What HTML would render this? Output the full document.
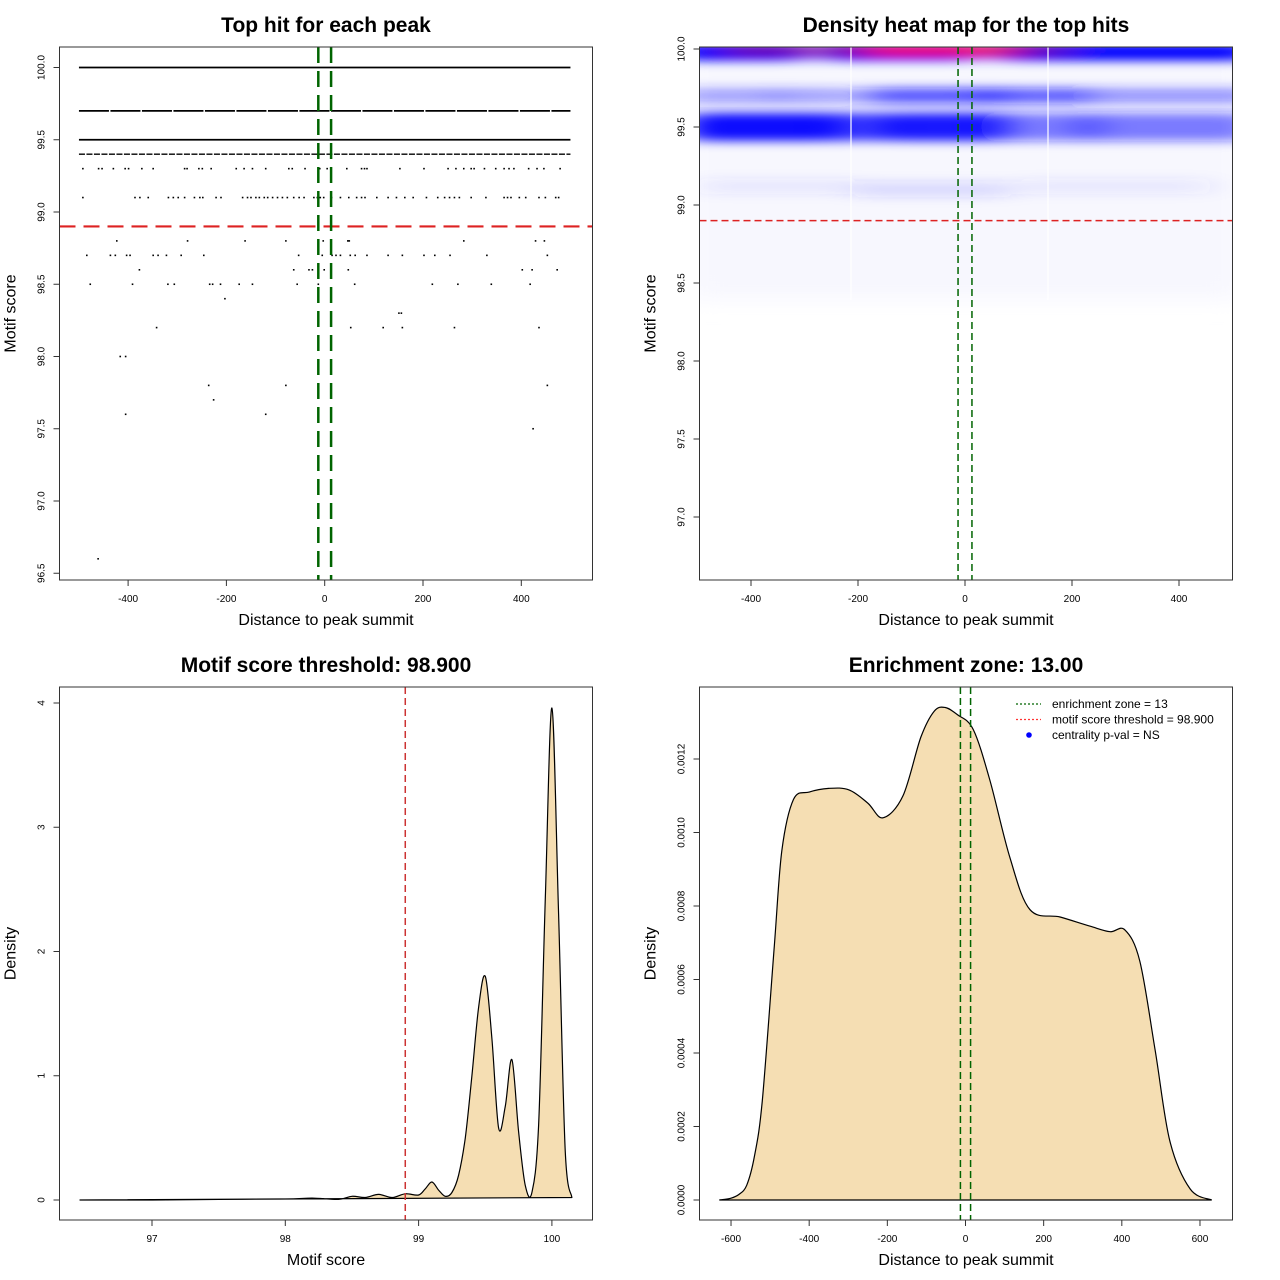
<!DOCTYPE html>
<html><head><meta charset="utf-8"><style>
body{margin:0;background:#fff;}
svg{display:block;font-family:"Liberation Sans",sans-serif;}
</style></head><body>
<svg id="fig" width="1280" height="1280" xmlns="http://www.w3.org/2000/svg">
<defs>
<filter id="blur" x="-50%" y="-100%" width="200%" height="300%"><feGaussianBlur stdDeviation="18 5"/></filter>
<filter id="blur2" x="-50%" y="-100%" width="200%" height="300%"><feGaussianBlur stdDeviation="20 10"/></filter>
<clipPath id="clip2"><rect x="700" y="47" width="532" height="533"/></clipPath>
</defs>
</svg>
<script>
// ---------- Panel 1 data ----------
const denseRows = [100.0, 99.7, 99.5, 99.4];
const sparseRowScores = [99.3, 99.1, 98.8, 98.7, 98.6, 98.5, 98.4, 98.3, 98.2, 98.0, 97.8, 97.7, 97.6, 97.5, 96.6];
const sparseRowDistances = [
 [-492,-460,-453,-430,-406,-399,-372,-349,-285,-280,-256,-249,-231,-180,-164,-147,-120,-73,-66,-40,-10,5,45,75,81,86,153,202,251,267,283,298,304,325,348,365,375,385,415,432,446,479],
 [-492,-386,-376,-359,-318,-308,-298,-285,-265,-254,-248,-221,-211,-167,-157,-150,-140,-133,-123,-116,-106,-96,-86,-76,-63,-52,-42,-22,-15,-9,-2,14,32,49,65,75,82,106,129,146,163,180,207,230,244,254,264,274,298,328,365,372,379,396,409,436,449,470,476],
 [-423,-279,-162,-79,-3,47,50,283,429,447],
 [-484,-436,-426,-403,-396,-349,-339,-322,-292,-246,-53,-5,15,23,32,52,62,86,129,158,202,224,255,330,453],
 [-377,-63,-32,-25,-1,48,402,422,473],
 [-477,-391,-319,-306,-234,-228,-212,-174,-147,-56,-13,61,219,271,339,418],
 [-203],[151,156],[-342,53,119,158,264,436],[-416,-405],[-236,-79,453],[-226],[-405,-120],[424],[-461]
];
const p1XTicks = [-400,-200,0,200,400];
const p1YTicks = [96.5,97.0,97.5,98.0,98.5,99.0,99.5,100.0];
const threshold = 98.9;
const zone = 13;
// ---------- Panel 2 data (heat blobs) ----------
const blobX = [-420,-120,300, -440,-280,-60,130,380, -380,-200,-40,140,380, -350,-60,280, -40,-320,120];
const blobW = [260,300,500, 200,160,260,200,360, 300,140,240,220,340, 300,300,360, 300,260,160];
const blobY = [99.98,99.98,99.98, 99.7,99.7,99.7,99.7,99.7, 99.5,99.5,99.5,99.5,99.5, 99.12,99.1,99.12, 99.99,99.99,99.99];
const blobH = [0.11,0.11,0.11, 0.1,0.1,0.1,0.1,0.1, 0.18,0.18,0.18,0.18,0.18, 0.1,0.1,0.1, 0.06,0.05,0.05];
const blobOpacity = [1,1,1, 0.4,0.4,0.7,0.65,0.45, 0.95,0.75,0.9,0.55,0.55, 0.08,0.14,0.08, 1,0.6,0.55];
const blobColor = ['#0000ff','#0000ff','#0000ff','#2020ff','#2020ff','#1010ff','#1010ff','#2020ff','#0000ff','#0000ff','#0000ff','#1010ff','#1010ff','#3030ff','#3030ff','#3030ff','#ff0000','#c00040','#b00050'];
const p2XTicks = [-400,-200,0,200,400];
const p2YTicks = [97.0,97.5,98.0,98.5,99.0,99.5,100.0];
// ---------- Panel 3 data ----------
const scoreGrid = [96.46,97,97.5,98,98.2,98.4,98.5,98.6,98.7,98.8,98.9,99.0,99.05,99.1,99.15,99.2,99.25,99.3,99.35,99.4,99.45,99.5,99.55,99.6,99.65,99.7,99.75,99.8,99.85,99.9,99.95,100.0,100.05,100.1,100.15];
const scoreDensity = [0,0,0.005,0.008,0.015,0.005,0.03,0.02,0.045,0.02,0.05,0.04,0.09,0.145,0.08,0.03,0.06,0.2,0.5,1.0,1.55,1.8,1.3,0.58,0.75,1.13,0.55,0.12,0.06,0.6,2.4,3.96,2.3,0.4,0.02];
const p3XTicks = [97,98,99,100];
const p3YTicks = [0,1,2,3,4];
// ---------- Panel 4 data ----------
const distGrid = [-630,-600,-580,-560,-540,-520,-490,-470,-440,-400,-350,-298,-250,-211,-160,-114,-80,-52,-20,20,63,114,165,242,319,370,408,446,485,523,575,630];
const distDensity = [0,0.000005,0.000015,0.00004,0.00012,0.00027,0.00068,0.00095,0.00109,0.00111,0.00112,0.001116,0.00108,0.00104,0.00110,0.00126,0.00133,0.00134,0.00132,0.00128,0.00114,0.00093,0.00079,0.00077,0.000745,0.00073,0.000735,0.00065,0.00041,0.00016,0.00003,0];
const p4XTicks = [-600,-400,-200,0,200,400,600];
const p4YTicks = [0,0.0002,0.0004,0.0006,0.0008,0.0010,0.0012];

const NS='http://www.w3.org/2000/svg';
const svg=document.getElementById('fig');
function el(tag,attrs,parent,text){const e=document.createElementNS(NS,tag);for(const k in attrs)e.setAttribute(k,attrs[k]);if(text!==undefined)e.textContent=text;(parent||svg).appendChild(e);return e;}
function grp(name){const g=el('g',{});


return g;}
function smoothPath(pts){
  let d='M'+pts[0][0].toFixed(1)+','+pts[0][1].toFixed(1);
  for(let i=0;i<pts.length-1;i++){
    const p0=pts[Math.max(0,i-1)],p1=pts[i],p2=pts[i+1],p3=pts[Math.min(pts.length-1,i+2)];
    const c1=[p1[0]+(p2[0]-p0[0])/6,p1[1]+(p2[1]-p0[1])/6],c2=[p2[0]-(p3[0]-p1[0])/6,p2[1]-(p3[1]-p1[1])/6];
    d+=` C${c1[0].toFixed(1)},${c1[1].toFixed(1)} ${c2[0].toFixed(1)},${c2[1].toFixed(1)} ${p2[0].toFixed(1)},${p2[1].toFixed(1)}`;
  }
  return d+' Z';
}

function panelFrame(g,box,title,xlab,ylab,xTicks,yTicks,sx,sy,fmtY){
  const r=el('rect',{x:box.x,y:box.y,width:box.w,height:box.h,fill:'none',stroke:'#333','stroke-width':1},g);
  
  
  const t=el('text',{x:box.x+box.w/2,y:box.y-15,'text-anchor':'middle','font-size':21,'font-weight':'bold'},g,title);
  
  
  const xl=el('text',{x:box.x+box.w/2,y:box.y+box.h+45,'text-anchor':'middle','font-size':16},g,xlab);
  
  
  const yx=box.x-44, yy=box.y+box.h/2;
  const yl=el('text',{x:yx,y:yy,'text-anchor':'middle','font-size':16,transform:`rotate(-90 ${yx} ${yy})`},g,ylab);
  
  
  const by=box.y+box.h;
  el('line',{x1:sx(xTicks[0]),x2:sx(xTicks[xTicks.length-1]),y1:by,y2:by,stroke:'#333'},g);
  xTicks.forEach(v=>{
    el('line',{x1:sx(v),x2:sx(v),y1:by,y2:by+6,stroke:'#333'},g);
    const tl=el('text',{x:sx(v),y:by+22,'text-anchor':'middle','font-size':10},g,String(v));
    
    
  });
  el('line',{x1:box.x,x2:box.x,y1:sy(yTicks[0]),y2:sy(yTicks[yTicks.length-1]),stroke:'#333'},g);
  yTicks.forEach(v=>{
    const y=sy(v);
    el('line',{x1:box.x-6,x2:box.x,y1:y,y2:y,stroke:'#333'},g);
    const lx=box.x-15;
    const tl=el('text',{x:lx,y:y,'text-anchor':'middle','font-size':10,transform:`rotate(-90 ${lx} ${y})`},g,fmtY(v));
    
    
  });
}

// ===== Panel 1 =====
(function(){
  const g=grp('scatter-panel');
  const box={x:59.5,y:47,w:533,h:533};
  const sx=v=>324.7+v*0.4915, sy=v=>67.5+(100-v)*144.5;
  denseRows.forEach(s=>{
    const l=el('line',{x1:sx(-500),x2:sx(500),y1:sy(s),y2:sy(s),stroke:'#000','stroke-width':s===99.4?1.4:1.8,'stroke-dasharray':s===99.4?'6 1.5':(s===99.7?'30 1.5':'none')},g);
    
    
  });
  sparseRowScores.forEach((s,i)=>{
    sparseRowDistances[i].forEach(d=>{
      const p=el('rect',{x:sx(d)-0.8,y:sy(s)-0.8,width:1.6,height:1.6,fill:'#000'},g);
      
      
    });
  });
  const th=el('line',{x1:box.x,x2:box.x+box.w,y1:sy(threshold),y2:sy(threshold),stroke:'#dd2222','stroke-width':2.2,'stroke-dasharray':'16 8'},g);
  
  
  [-zone,zone].forEach(z=>{
    const l=el('line',{x1:sx(z),x2:sx(z),y1:box.y,y2:box.y+box.h,stroke:'#006400','stroke-width':2.5,'stroke-dasharray':'16 8'},g);
    
    
  });
  panelFrame(g,box,'Top hit for each peak','Distance to peak summit','Motif score',p1XTicks,p1YTicks,sx,sy,v=>v.toFixed(1));
})();

// ===== Panel 2 =====
(function(){
  const g=grp('heatmap-panel');
  const box={x:699.5,y:47,w:533,h:533};
  const sx=v=>965+v*0.535, sy=v=>49+(100-v)*156;
  const hg=el('g',{'clip-path':'url(#clip2)'},g);
  const b2=el('g',{filter:'url(#blur2)'},hg);
  el('rect',{x:680,y:40,width:570,height:260,fill:'#f7f7fe'},b2);
  const bg=el('g',{filter:'url(#blur)'},hg);
  blobX.forEach((x,i)=>{
    const w=blobW[i]*0.535, h=blobH[i]*156;
    let x0=sx(x)-w/2, x1=sx(x)+w/2;
    const e=el('rect',{x:x0,y:sy(blobY[i])-h/2,width:x1-x0,height:h,rx:Math.min(w/2,h/2),fill:blobColor[i],'fill-opacity':blobOpacity[i]},bg);
    
    
  });
  el('rect',{x:699,y:40,width:534,height:7,fill:'#fff'},hg);
  [851,1048].forEach(x=>el('line',{x1:x,x2:x,y1:47,y2:300,stroke:'#fff','stroke-width':1.2},hg));
  const th=el('line',{x1:box.x,x2:box.x+box.w,y1:sy(threshold),y2:sy(threshold),stroke:'#dd2222','stroke-width':1.5,'stroke-dasharray':'7 4'},g);
  
  
  [-zone,zone].forEach(z=>{
    const l=el('line',{x1:sx(z),x2:sx(z),y1:box.y,y2:box.y+box.h,stroke:'#006400','stroke-width':1.5,'stroke-dasharray':'7 4'},g);
    
    
  });
  panelFrame(g,box,'Density heat map for the top hits','Distance to peak summit','Motif score',p2XTicks,p2YTicks,sx,sy,v=>v.toFixed(1));
})();

// ===== Panel 3 =====
(function(){
  const g=grp('score-density-panel');
  const box={x:59.5,y:687,w:533,h:533};
  const sx=v=>152+(v-97)*133.3, sy=v=>1200-v*124.25;
  const pts=scoreGrid.map((x,i)=>[sx(x),sy(scoreDensity[i])]);
  const p=el('path',{d:smoothPath(pts),fill:'#f5deb3',stroke:'#000','stroke-width':1.2,'stroke-linejoin':'round'},g);
  
  
  const th=el('line',{x1:sx(threshold),x2:sx(threshold),y1:box.y,y2:box.y+box.h,stroke:'#cc3333','stroke-width':1.5,'stroke-dasharray':'7 4'},g);
  
  
  panelFrame(g,box,'Motif score threshold: 98.900','Motif score','Density',p3XTicks,p3YTicks,sx,sy,v=>String(v));
})();

// ===== Panel 4 =====
(function(){
  const g=grp('distance-density-panel');
  const box={x:699.5,y:687,w:533,h:533};
  const sx=v=>965.5+v*0.3908, sy=v=>1200-v*367500;
  const pts=distGrid.map((x,i)=>[sx(x),sy(distDensity[i])]);
  const p=el('path',{d:smoothPath(pts),fill:'#f5deb3',stroke:'#000','stroke-width':1.2},g);
  
  
  [-zone,zone].forEach(z=>{
    const l=el('line',{x1:sx(z),x2:sx(z),y1:box.y,y2:box.y+box.h,stroke:'#006400','stroke-width':1.5,'stroke-dasharray':'7 4'},g);
    
    
  });
  panelFrame(g,box,'Enrichment zone: 13.00','Distance to peak summit','Density',p4XTicks,p4YTicks,sx,sy,v=>v.toFixed(4));
  const lg=el('g',{},g);
  
  
  const entries=[['enrichment zone = 13','#006400','line'],['motif score threshold = 98.900','#ff3333','line'],['centrality p-val = NS','#0000ff','dot']];
  entries.forEach((e,i)=>{
    const y=704+i*15.5;
    const eg=el('g',{},lg);
    
    
    if(e[2]==='line') el('line',{x1:1016,x2:1041,y1:y,y2:y,stroke:e[1],'stroke-width':1.2,'stroke-dasharray':'2 2'},eg);
    else el('circle',{cx:1029,cy:y,r:2.8,fill:e[1]},eg);
    el('text',{x:1052,y:y+4,'font-size':12},eg,e[0]);
  });
})();
</script>
</body></html>
